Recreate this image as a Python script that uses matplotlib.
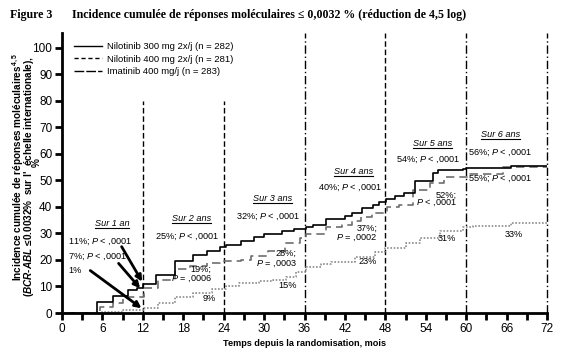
import matplotlib
matplotlib.use("Agg")
import matplotlib.pyplot as plt
from matplotlib.lines import Line2D

plt.rcParams["font.family"] = ["Liberation Sans", "DejaVu Sans"]
plt.rcParams["mathtext.fontset"] = "custom"
plt.rcParams["mathtext.rm"] = "Liberation Sans"
plt.rcParams["mathtext.it"] = "Liberation Sans:italic"
plt.rcParams["mathtext.bf"] = "Liberation Sans:italic:bold"
plt.rcParams["mathtext.default"] = "regular"

# courbes de Kaplan-Meier (mois, %)
nilo300_t = [0, 5.2, 7.5, 9.8, 11.2, 12.0, 14.0, 16.8, 19.4, 21.5, 23.5, 24.3, 26.6, 28.5, 30.0,
             32.6, 34.5, 36.2, 37.3, 39.2, 42.0, 43.1, 44.6, 46.1, 47.1, 48.1, 49.5, 50.8,
             52.4, 55.1, 55.8, 59.5, 60.0, 66.7, 72.0]
nilo300_v = [0, 4.0, 6.5, 8.5, 9.5, 11.0, 14.3, 19.5, 22.0, 23.5, 25.0, 25.6, 27.3, 28.5, 29.9,
             31.0, 31.8, 32.3, 33.2, 35.3, 36.5, 37.8, 39.4, 40.7, 41.9, 42.8, 44.0, 45.4,
             49.6, 52.9, 53.7, 54.3, 54.8, 55.5, 55.5]

nilo400_t = [0, 5.6, 7.6, 9.0, 12.2, 14.3, 16.8, 19.0, 21.5, 23.5, 26.5, 28.0, 30.6, 33.1, 35.3,
             36.2, 39.2, 41.5, 43.0, 44.4, 46.0, 48.2, 50.0, 52.1, 54.6, 56.7, 60.5, 65.5, 72.0]
nilo400_v = [0, 2.4, 3.9, 6.2, 9.3, 12.5, 16.6, 17.7, 19.0, 19.5, 20.0, 21.5, 23.4, 26.3, 28.2,
             29.7, 32.3, 33.2, 34.5, 36.1, 37.8, 40.1, 40.7, 46.4, 48.9, 51.4, 52.4, 55.0, 55.0]

ima_t = [0, 6.0, 9.0, 12.2, 14.2, 16.8, 19.5, 22.3, 24.3, 26.3, 29.3, 31.3, 33.3, 34.8, 36.2,
         38.5, 40.0, 43.5, 46.5, 48.0, 51.0, 53.2, 56.1, 59.5, 61.0, 66.7, 72.0]
ima_v = [0, 0.5, 1.0, 1.8, 3.7, 6.2, 7.4, 9.0, 10.2, 11.2, 12.0, 12.6, 13.7, 15.6, 17.5,
         18.5, 19.4, 21.2, 23.1, 24.6, 26.3, 28.2, 30.9, 32.3, 32.8, 33.8, 33.8]

labels = ["Nilotinib 300 mg 2x/j (n = 282)", "Nilotinib 400 mg 2x/j (n = 281)",
          "Imatinib 400 mg/j (n = 283)"]

years = [12, 24, 36, 48, 60, 72]
year_tops = [80, 80, 105.5, 105.5, 105.5, 105.5]
year_styles = [(0, (4, 2)), (0, (4, 2)), (0, (6, 2, 1, 2)), (0, (4, 2)),
               (0, (6, 2, 1, 2)), (0, (6, 2, 1, 2))]

# annotations: (texte, x, y, ha)
period_titles = [("Sur 1 an", 7.4, 33.8), ("Sur 2 ans", 19.2, 35.7),
                 ("Sur 3 ans", 31.2, 43.0), ("Sur 4 ans", 43.3, 53.3),
                 ("Sur 5 ans", 55.0, 64.0), ("Sur 6 ans", 65.1, 67.2)]
notes = [
    ("11%; $\\it{P}$ < ,0001", 0.9, 26.9, "left"),
    ("7%; $\\it{P}$ < ,0001", 0.9, 21.2, "left"),
    ("1%", 0.9, 16.2, "left"),
    ("25%; $\\it{P}$ < ,0001", 18.6, 28.8, "center"),
    ("19%;", 22.2, 16.5, "right"),
    ("$\\it{P}$ = ,0006", 22.2, 12.7, "right"),
    ("9%", 21.8, 5.5, "center"),
    ("32%; $\\it{P}$ < ,0001", 30.6, 36.3, "center"),
    ("28%;", 34.8, 22.5, "right"),
    ("$\\it{P}$ = ,0003", 34.8, 18.7, "right"),
    ("15%", 33.5, 10.2, "center"),
    ("40%; $\\it{P}$ < ,0001", 42.7, 47.0, "center"),
    ("37%;", 46.8, 32.0, "right"),
    ("$\\it{P}$ = ,0002", 46.8, 28.2, "right"),
    ("23%", 45.4, 19.4, "center"),
    ("54%; $\\it{P}$ < ,0001", 54.3, 57.7, "center"),
    ("52%;", 58.6, 44.5, "right"),
    ("$\\it{P}$ < ,0001", 58.6, 41.4, "right"),
    ("31%", 57.2, 28.2, "center"),
    ("56%; $\\it{P}$ < ,0001", 65.1, 60.5, "center"),
    ("55%; $\\it{P}$ < ,0001", 65.1, 50.5, "center"),
    ("33%", 67.1, 29.4, "center"),
]
arrows = [((8.85, 25.0), (11.9, 11.8)), ((8.4, 18.7), (11.6, 9.3)), ((4.2, 16.0), (11.8, 1.8))]

fig = plt.figure(figsize=(5.61, 3.6), dpi=100)
ax = fig.add_axes([62 / 561, 47 / 360, 485 / 561, 280 / 360])

for x, top, ls in zip(years, year_tops, year_styles):
    ax.vlines(x, 0, top, color="black", lw=1.0, linestyles=[ls], zorder=1, clip_on=False)

ax.step(ima_t, ima_v, where="post", color="#8c8c8c", lw=1.2, ls=(0, (1, 1)), zorder=2)
ax.step(nilo400_t, nilo400_v, where="post", color="#6e6e6e", lw=1.2, ls=(0, (5, 3)), zorder=3)
ax.step(nilo300_t, nilo300_v, where="post", color="black", lw=1.2, zorder=4)

title_texts = []
for txt, x, y in period_titles:
    t = ax.text(x, y, txt, fontsize=6.6, ha="center", va="center", style="italic")
    title_texts.append(t)
for txt, x, y, ha in notes:
    ax.text(x, y, txt, fontsize=6.6, ha=ha, va="center")
for start, end in arrows:
    ax.annotate("", xy=end, xytext=start,
                arrowprops=dict(arrowstyle="-|>", color="black", lw=2.0,
                                mutation_scale=9, shrinkA=0, shrinkB=0))

ax.set_xlim(0, 72)
ax.set_ylim(0, 105.5)
ax.set_xticks(range(0, 73, 6))
ax.set_xticks(range(0, 73, 3), minor=True)
ax.set_yticks(range(0, 101, 10))
ax.tick_params(axis="both", which="major", labelsize=8.5, width=2, length=5, pad=2)
ax.tick_params(axis="x", which="minor", width=2, length=5)
for side in ["top", "right"]:
    ax.spines[side].set_visible(False)
for side in ["left", "bottom"]:
    ax.spines[side].set_linewidth(2)

ax.set_xlabel("Temps depuis la randomisation, mois", fontsize=6.6, fontweight="bold", labelpad=3)

handles = [Line2D([], [], color="black", lw=1.0),
           Line2D([], [], color="black", lw=1.0, ls=(0, (3, 2))),
           Line2D([], [], color="black", lw=1.0, ls=(0, (7, 1.5)))]
leg = ax.legend(handles, labels, loc="upper left", bbox_to_anchor=(72 / 561, 1 - 40 / 360),
                bbox_transform=fig.transFigure, frameon=False, fontsize=6.8, handlelength=3.0,
                handletextpad=0.5, labelspacing=0.4, borderpad=0.2, borderaxespad=0)

fig.text(18 / 561, 1 - 167 / 360, "Incidence cumulée de réponses moléculaires$^{4,5}$",
         rotation=90, ha="center", va="center", fontsize=7.2, fontweight="bold")
fig.text(29 / 561, 1 - 176 / 360,
         "($\\mathbf{BCR}$-$\\mathbf{ABL}$ ≤0.0032%  sur l'  échelle internationale),",
         rotation=90, ha="center", va="center", fontsize=7.2, fontweight="bold")
fig.text(37 / 561, 1 - 163 / 360, "%", rotation=90, ha="center", va="center",
         fontsize=7.2, fontweight="bold")

fig.text(10 / 561, 1 - 15 / 360, "Figure 3", fontsize=8.6, fontweight="bold",
         family="Liberation Serif", va="center")
fig.text(72 / 561, 1 - 15 / 360,
         "Incidence cumulée de réponses moléculaires ≤ 0,0032 % (réduction de 4,5 log)",
         fontsize=8.6, fontweight="bold", family="Liberation Serif", va="center")

# soulignement des titres de période
renderer = fig.canvas.get_renderer()
for t in title_texts:
    bb = t.get_window_extent(renderer)
    fig.add_artist(Line2D([bb.x0, bb.x1], [bb.y0, bb.y0], color="black", lw=0.8,
                          transform=None))

fig.savefig("out.png", dpi=100)
